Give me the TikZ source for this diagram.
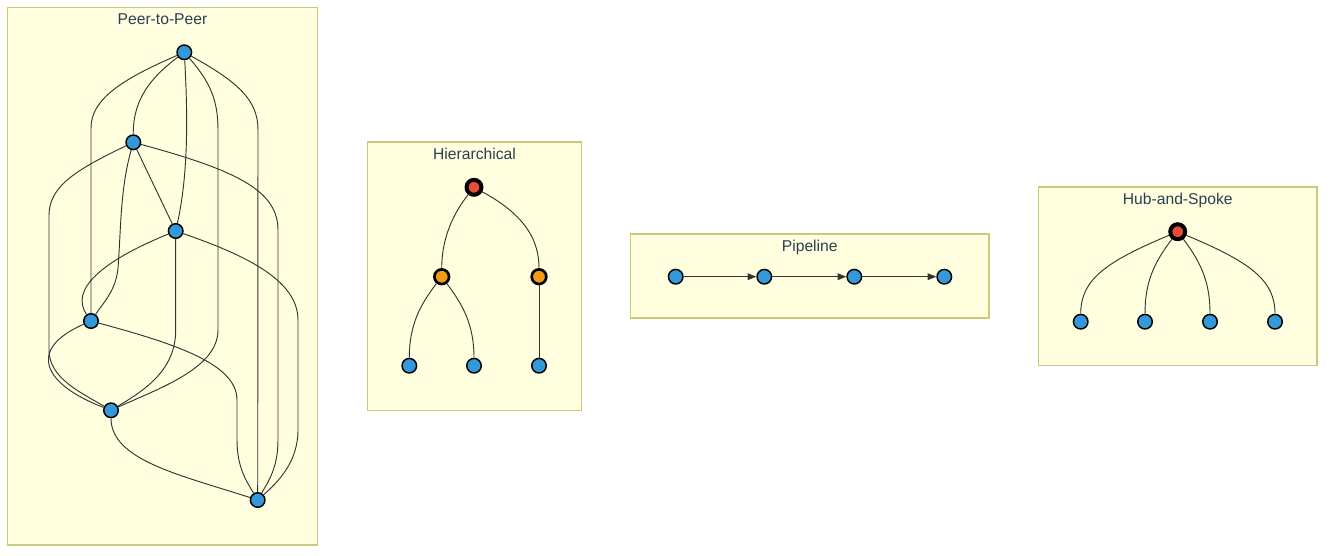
\documentclass[tikz,border=0pt]{standalone}
\usepackage{fontspec}
\setmainfont{Liberation Sans}
\usetikzlibrary{arrows.meta}
\definecolor{clusterfill}{HTML}{FFFFE0}
\definecolor{clusterline}{HTML}{CACA7A}
\definecolor{titlecol}{HTML}{2C3E50}
\definecolor{nodeblue}{HTML}{3498DB}
\definecolor{nodered}{HTML}{E74C3C}
\definecolor{nodeorange}{HTML}{F39C12}
\definecolor{edgecol}{HTML}{333333}
\tikzset{
  cluster/.style={fill=clusterfill, draw=clusterline, line width=1pt},
  ctitle/.style={anchor=base, text=titlecol, inner sep=0pt,
    font=\fontsize{11.75pt}{14pt}\selectfont},
  peer/.style={circle, draw=black, fill=nodeblue, line width=1.1pt,
    minimum size=10.9pt, inner sep=0pt},
  boss/.style={circle, draw=black, fill=nodered, line width=3pt,
    minimum size=11.2pt, inner sep=0pt},
  lead/.style={circle, draw=black, fill=nodeorange, line width=2pt,
    minimum size=11pt, inner sep=0pt},
  link/.style={draw=edgecol, line width=0.7pt},
  flow/.style={link, -{Triangle[length=6.5pt, width=5pt]}},
}
\begin{document}
\begin{tikzpicture}[x=0.75pt, y=-0.75pt]
\useasboundingbox (0,0) rectangle (1333,556);

% cluster frames
\draw[cluster] (7.5,7.5) rectangle (317.5,545);
\draw[cluster] (367.5,142) rectangle (581.5,410.5);
\draw[cluster] (630.5,234) rectangle (989,318);
\draw[cluster] (1038.5,187) rectangle (1317,365.5);

% cluster titles
\node[ctitle] (t1) at (162.5,25) {Peer-to-Peer};
\node[ctitle] (t2) at (474.5,159.5) {Hierarchical};
\node[ctitle] (t3) at (809.75,251.5) {Pipeline};
\node[ctitle] (t4) at (1177.75,204.5) {Hub-and-Spoke};

% peer-to-peer mesh
\node[peer] (A) at (184.3,52.3) {};
\node[peer] (B) at (133.3,142.3) {};
\node[peer] (C) at (175.7,231) {};
\node[peer] (D) at (91,321) {};
\node[peer] (E) at (111,410.3) {};
\node[peer] (F) at (257.7,500) {};

\draw[link] (A) .. controls (120,80) and (91,100) .. (91,128) -- (D);
\draw[link] (A) .. controls (150,78) and (133,100) .. (B);
\draw[link] (A) .. controls (188,120) and (188,175) .. (C);
\draw[link] (A) .. controls (210,82) and (218,100) .. (218,130) -- (218,330)
  .. controls (218,368) and (160,388) .. (E);
\draw[link] (A) .. controls (238,82) and (258,100) .. (258,130) -- (F);
\draw[link] (B) -- (C);
\draw[link] (B) .. controls (80,168) and (49,185) .. (49,215) -- (49,350)
  .. controls (49,378) and (80,392) .. (E);
\draw[link] (B) .. controls (120,190) and (121,230) .. (118,268)
  .. controls (116,290) and (104,302) .. (D);
\draw[link] (B) .. controls (235,170) and (278,190) .. (278,230) -- (278,440)
  .. controls (278,468) and (268,482) .. (F);
\draw[link] (C) .. controls (100,262) and (70,290) .. (D);
\draw[link] (C) -- (175.7,330) .. controls (175.7,370) and (145,390) .. (E);
\draw[link] (C) .. controls (245,255) and (298,280) .. (298,320) -- (298,430)
  .. controls (298,462) and (278,482) .. (F);
\draw[link] (D) .. controls (25,350) and (45,385) .. (E);
\draw[link] (D) .. controls (180,345) and (237,365) .. (237,400) -- (237,440)
  .. controls (237,468) and (247,482) .. (F);
\draw[link] (E) .. controls (111,460) and (180,475) .. (F);

% hierarchy
\node[boss] (R) at (474,187.3) {};
\node[lead] (M1) at (441.7,276.7) {};
\node[lead] (M2) at (539,276.7) {};
\node[peer] (L1) at (409.3,365.7) {};
\node[peer] (L2) at (474,365.7) {};
\node[peer] (L3) at (539,365.7) {};

\draw[link] (R) .. controls (452,215) and (441.7,240) .. (M1);
\draw[link] (R) .. controls (525,215) and (539,240) .. (M2);
\draw[link] (M1) .. controls (420,305) and (409.3,325) .. (L1);
\draw[link] (M1) .. controls (463,305) and (474,325) .. (L2);
\draw[link] (M2) -- (L3);

% pipeline
\node[peer] (P1) at (675.7,276.7) {};
\node[peer] (P2) at (764.3,276.7) {};
\node[peer] (P3) at (854.3,276.7) {};
\node[peer] (P4) at (944.3,276.7) {};

\draw[flow] (P1) -- (P2);
\draw[flow] (P2) -- (P3);
\draw[flow] (P3) -- (P4);

% hub and spoke
\node[boss] (H) at (1177.7,231.7) {};
\node[peer] (S1) at (1080.7,321.7) {};
\node[peer] (S2) at (1145,321.7) {};
\node[peer] (S3) at (1210,321.7) {};
\node[peer] (S4) at (1275,321.7) {};

\draw[link] (H) .. controls (1105,262) and (1080.7,280) .. (S1);
\draw[link] (H) .. controls (1152,265) and (1145,285) .. (S2);
\draw[link] (H) .. controls (1203,265) and (1210,285) .. (S3);
\draw[link] (H) .. controls (1250,262) and (1275,280) .. (S4);
\end{tikzpicture}
\end{document}
